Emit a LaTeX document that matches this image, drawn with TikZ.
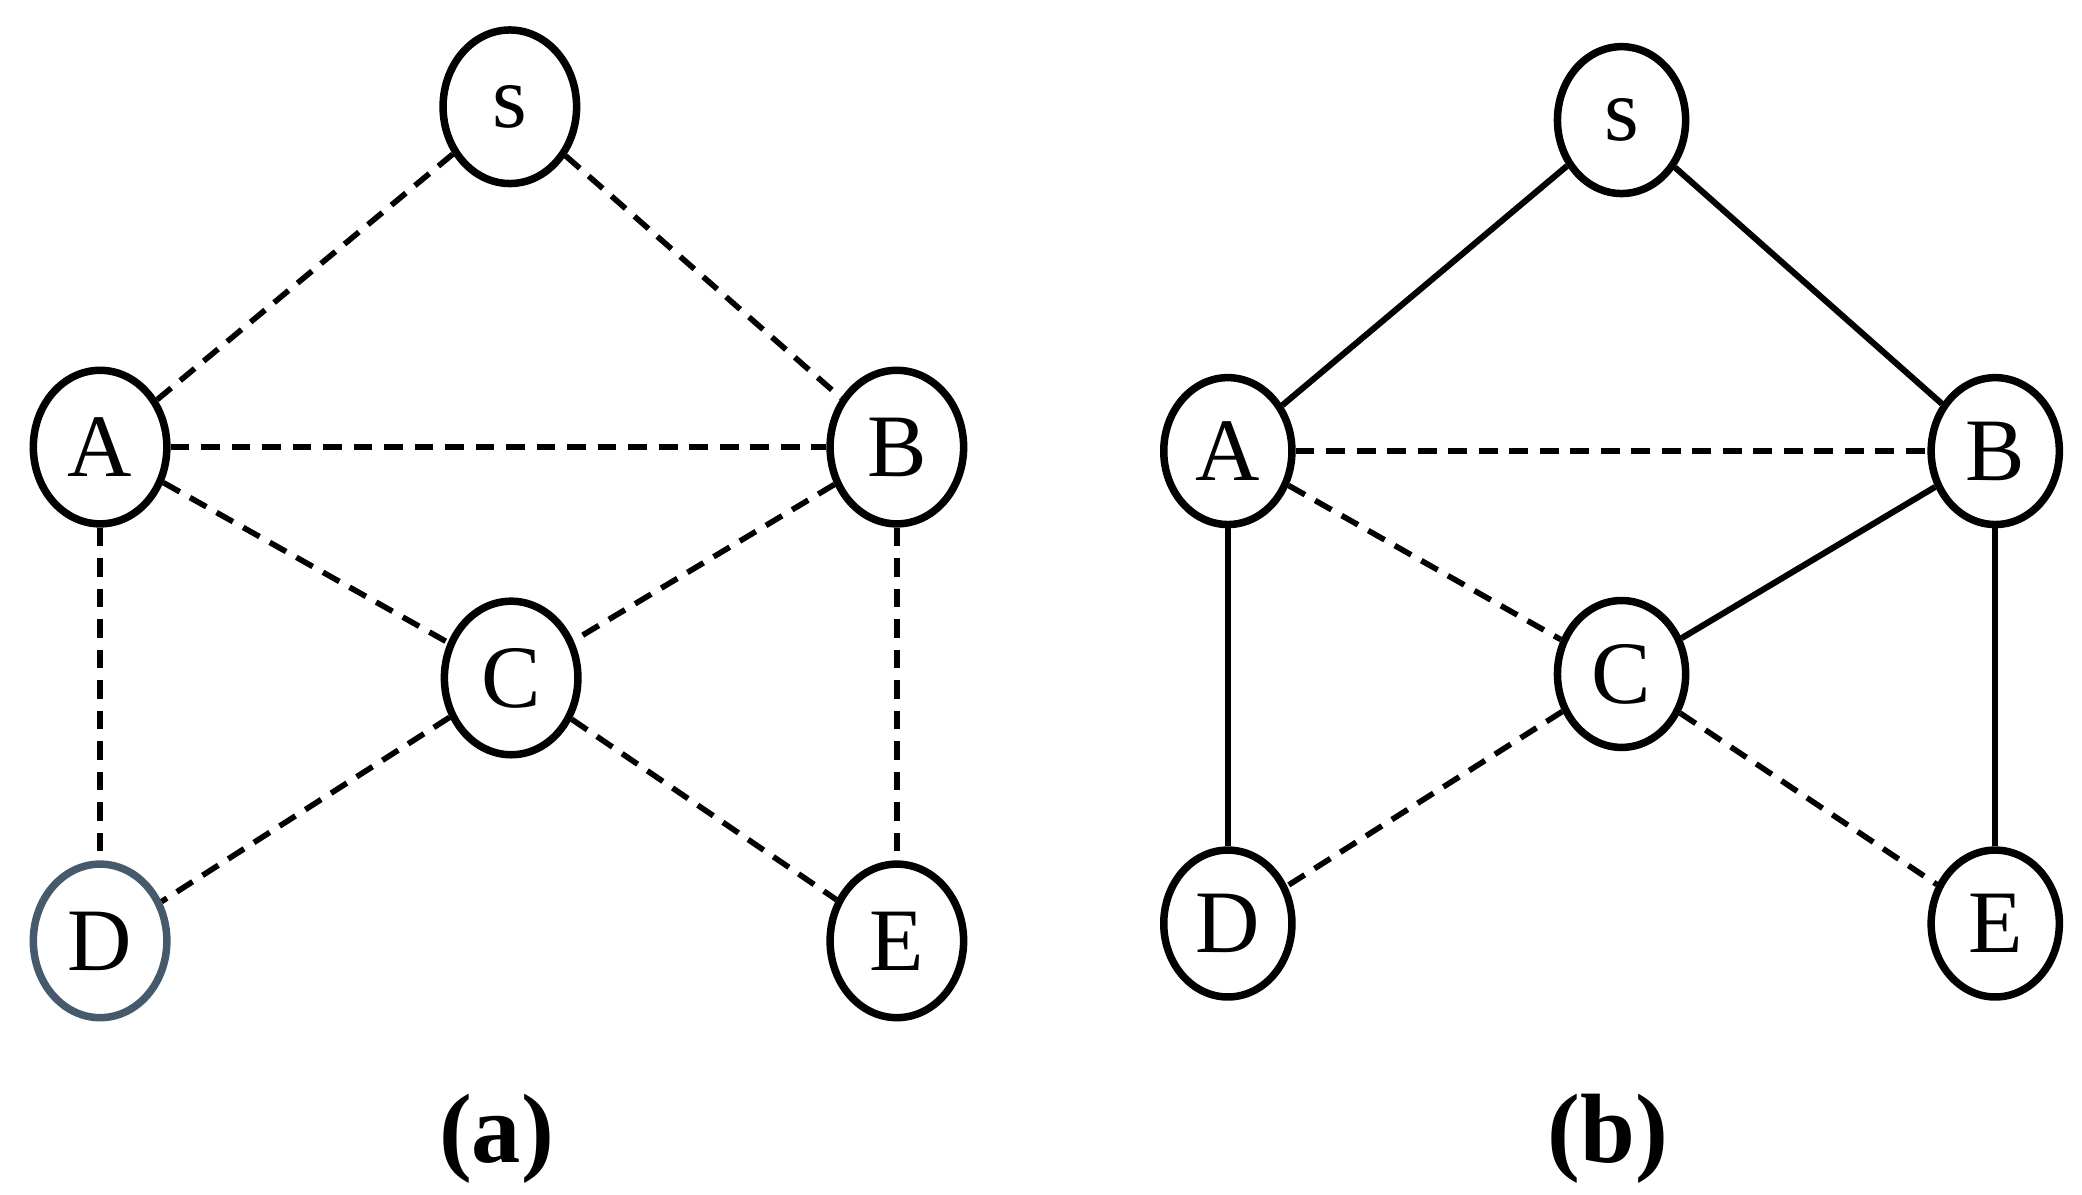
\documentclass[tikz,border=0pt]{standalone}
\usepackage{fontspec}
\setmainfont{Liberation Serif}
\usetikzlibrary{shapes.geometric}
\begin{document}
\begin{tikzpicture}[x=0.01cm,y=-0.01cm,
  vert/.style={ellipse,draw,line width=1.6pt,minimum width=1cm,minimum height=1.15cm,inner sep=0pt,font=\fontsize{19}{22}\selectfont},
  dashed edge/.style={line width=1.2pt,dash pattern=on 4pt off 2.5pt},
  solid edge/.style={line width=1.3pt}]
\useasboundingbox (0,0) rectangle (1560,895);
\definecolor{dgrey}{RGB}{70,90,110}

% (a)
\node[vert] (s1) at (382,80) {s};
\node[vert] (A1) at (75,335) {A};
\node[vert] (B1) at (672,335) {B};
\node[vert] (C1) at (383,508) {C};
\node[vert,draw=dgrey] (D1) at (75,705) {D};
\node[vert] (E1) at (672,705) {E};
\foreach \u/\v in {s1/A1,s1/B1,A1/B1,A1/C1,B1/C1,A1/D1,B1/E1,C1/D1,C1/E1}
  \draw[dashed edge] (\u) -- (\v);
\node[font=\fontsize{21}{25}\selectfont\bfseries] (la) at (372,853) {(a)};

% (b)
\node[vert,minimum width=0.96cm,minimum height=1.1cm] (s2) at (1215,90) {s};
\node[vert,minimum width=0.96cm,minimum height=1.1cm] (A2) at (920,338) {A};
\node[vert,minimum width=0.96cm,minimum height=1.1cm] (B2) at (1495,338) {B};
\node[vert,minimum width=0.96cm,minimum height=1.1cm] (C2) at (1215,505) {C};
\node[vert,minimum width=0.96cm,minimum height=1.1cm] (D2) at (920,692) {D};
\node[vert,minimum width=0.96cm,minimum height=1.1cm] (E2) at (1495,692) {E};
\foreach \u/\v in {s2/A2,s2/B2,B2/C2,A2/D2,B2/E2}
  \draw[solid edge] (\u) -- (\v);
\foreach \u/\v in {A2/B2,A2/C2,C2/D2,C2/E2}
  \draw[dashed edge] (\u) -- (\v);
\node[font=\fontsize{21}{25}\selectfont\bfseries] (lb) at (1205,853) {(b)};
\end{tikzpicture}
\end{document}
